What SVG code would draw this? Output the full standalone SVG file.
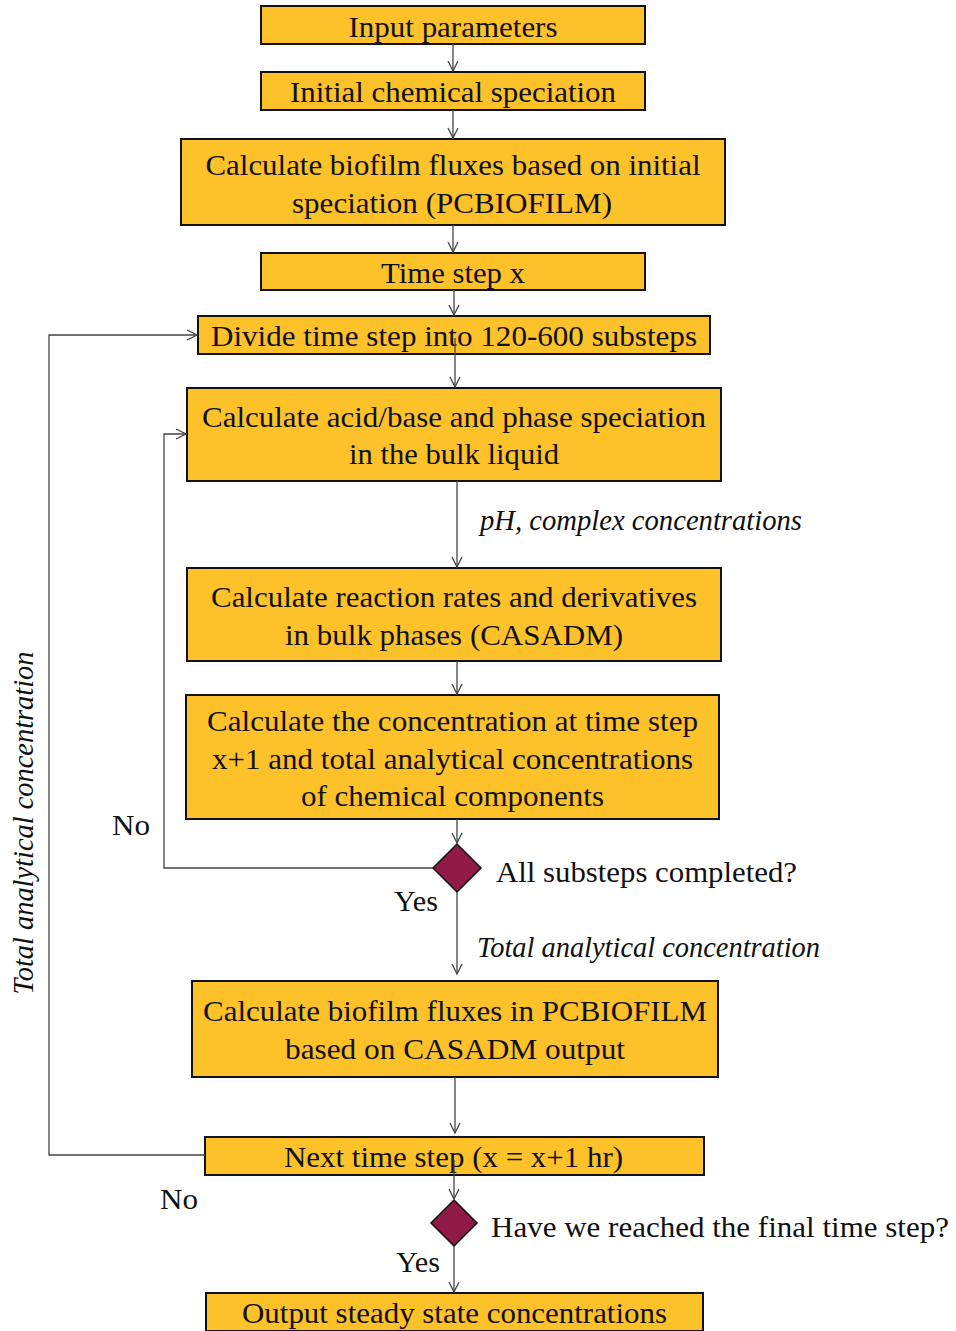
<svg xmlns="http://www.w3.org/2000/svg" width="956" height="1331" viewBox="0 0 956 1331" font-family="Liberation Serif, Times New Roman, serif">
<style>
.box{fill:#FDC12A;stroke:#111;stroke-width:2}
.dia{fill:#8E1A45;stroke:#111;stroke-width:1.5}
.t{font-size:29px;fill:#111;text-anchor:middle}
.tl{font-size:29px;fill:#111}
.it{font-style:italic}
.c{fill:none;stroke:#444;stroke-width:1.3}
</style>
<defs>
<marker id="ah" viewBox="0 0 12 12" refX="11" refY="6" markerWidth="12" markerHeight="12" markerUnits="userSpaceOnUse" orient="auto">
<path d="M1,1 L11,6 L1,11" fill="none" stroke="#444" stroke-width="1.3"/>
</marker>
</defs>
<rect width="956" height="1331" fill="#fff"/>

<g id="n1"><rect class="box" x="261" y="6" width="384" height="38"/><text class="t" x="453" y="37" textLength="209" lengthAdjust="spacingAndGlyphs">Input parameters</text></g>
<g id="n2"><rect class="box" x="261" y="72" width="384" height="38"/><text class="t" x="453" y="102" textLength="326" lengthAdjust="spacingAndGlyphs">Initial chemical speciation</text></g>
<g id="n3"><rect class="box" x="181" y="139" width="544" height="86"/><text class="t" x="453" y="175" textLength="495" lengthAdjust="spacingAndGlyphs">Calculate biofilm fluxes based on initial</text><text class="t" x="452" y="213" textLength="320" lengthAdjust="spacingAndGlyphs">speciation (PCBIOFILM)</text></g>
<g id="n4"><rect class="box" x="261" y="253" width="384" height="37"/><text class="t" x="453" y="283" textLength="144" lengthAdjust="spacingAndGlyphs">Time step x</text></g>
<g id="n5"><rect class="box" x="198" y="316" width="512" height="38"/><text class="t" x="454" y="346" textLength="486" lengthAdjust="spacingAndGlyphs">Divide time step into 120-600 substeps</text></g>
<g id="n6"><rect class="box" x="187" y="388" width="534" height="93"/><text class="t" x="454" y="427" textLength="504" lengthAdjust="spacingAndGlyphs">Calculate acid/base and phase speciation</text><text class="t" x="454" y="464" textLength="210" lengthAdjust="spacingAndGlyphs">in the bulk liquid</text></g>
<g id="n7"><rect class="box" x="187" y="568" width="534" height="93"/><text class="t" x="454" y="607" textLength="486" lengthAdjust="spacingAndGlyphs">Calculate reaction rates and derivatives</text><text class="t" x="454" y="645" textLength="338" lengthAdjust="spacingAndGlyphs">in bulk phases (CASADM)</text></g>
<g id="n8"><rect class="box" x="186" y="695" width="533" height="124"/><text class="t" x="452.5" y="731" textLength="491" lengthAdjust="spacingAndGlyphs">Calculate the concentration at time step</text><text class="t" x="452.5" y="769" textLength="481" lengthAdjust="spacingAndGlyphs">x+1 and total analytical concentrations</text><text class="t" x="452.5" y="806" textLength="303" lengthAdjust="spacingAndGlyphs">of chemical components</text></g>
<g id="d1"><polygon class="dia" points="457,844 481,868 457,892 433,868"/><text class="tl" x="496" y="882" textLength="301" lengthAdjust="spacingAndGlyphs">All substeps completed?</text></g>
<g id="n9"><rect class="box" x="192" y="981" width="526" height="96"/><text class="t" x="455" y="1021" textLength="504" lengthAdjust="spacingAndGlyphs">Calculate biofilm fluxes in PCBIOFILM</text><text class="t" x="455" y="1059" textLength="340" lengthAdjust="spacingAndGlyphs">based on CASADM output</text></g>
<g id="n10"><rect class="box" x="205" y="1137" width="499" height="38"/><text class="t" x="453.5" y="1167" textLength="339" lengthAdjust="spacingAndGlyphs">Next time step (x = x+1 hr)</text></g>
<g id="d2"><polygon class="dia" points="454,1200 477,1223 454,1246 431,1223"/><text class="tl" x="491" y="1237" textLength="458" lengthAdjust="spacingAndGlyphs">Have we reached the final time step?</text></g>
<g id="n11"><rect class="box" x="206" y="1293" width="497" height="38"/><text class="t" x="454.5" y="1323" textLength="425" lengthAdjust="spacingAndGlyphs">Output steady state concentrations</text></g>

<g id="connectors">
<line class="c" x1="453" y1="44" x2="453" y2="71" marker-end="url(#ah)"/>
<line class="c" x1="453" y1="110" x2="453" y2="138" marker-end="url(#ah)"/>
<line class="c" x1="453" y1="225" x2="453" y2="252" marker-end="url(#ah)"/>
<line class="c" x1="454" y1="290" x2="454" y2="315" marker-end="url(#ah)"/>
<line class="c" x1="455" y1="338" x2="455" y2="387" marker-end="url(#ah)"/>
<line class="c" x1="457" y1="481" x2="457" y2="567" marker-end="url(#ah)"/>
<line class="c" x1="457" y1="661" x2="457" y2="694" marker-end="url(#ah)"/>
<line class="c" x1="457" y1="819" x2="457" y2="843" marker-end="url(#ah)"/>
<line class="c" x1="457" y1="892" x2="457" y2="974" marker-end="url(#ah)"/>
<line class="c" x1="455" y1="1077" x2="455" y2="1133" marker-end="url(#ah)"/>
<line class="c" x1="454" y1="1160" x2="454" y2="1199" marker-end="url(#ah)"/>
<line class="c" x1="454" y1="1246" x2="454" y2="1292" marker-end="url(#ah)"/>
<polyline class="c" points="433,868 164,868 164,434 186,434" marker-end="url(#ah)"/>
<polyline class="c" points="205,1155 49,1155 49,335 197,335" marker-end="url(#ah)"/>
<text class="t it" x="641" y="530" textLength="322" lengthAdjust="spacingAndGlyphs">pH, complex concentrations</text>
<text class="t it" x="648.5" y="957" textLength="343" lengthAdjust="spacingAndGlyphs">Total analytical concentration</text>
<text class="t it" transform="translate(33,823) rotate(-90)" x="0" y="0" textLength="343" lengthAdjust="spacingAndGlyphs">Total analytical concentration</text>
<text class="t" x="131" y="835" textLength="38" lengthAdjust="spacingAndGlyphs">No</text>
<text class="t" x="416" y="911" textLength="44" lengthAdjust="spacingAndGlyphs">Yes</text>
<text class="t" x="179" y="1209" textLength="38" lengthAdjust="spacingAndGlyphs">No</text>
<text class="t" x="418" y="1272" textLength="44" lengthAdjust="spacingAndGlyphs">Yes</text>
</g>
</svg>
